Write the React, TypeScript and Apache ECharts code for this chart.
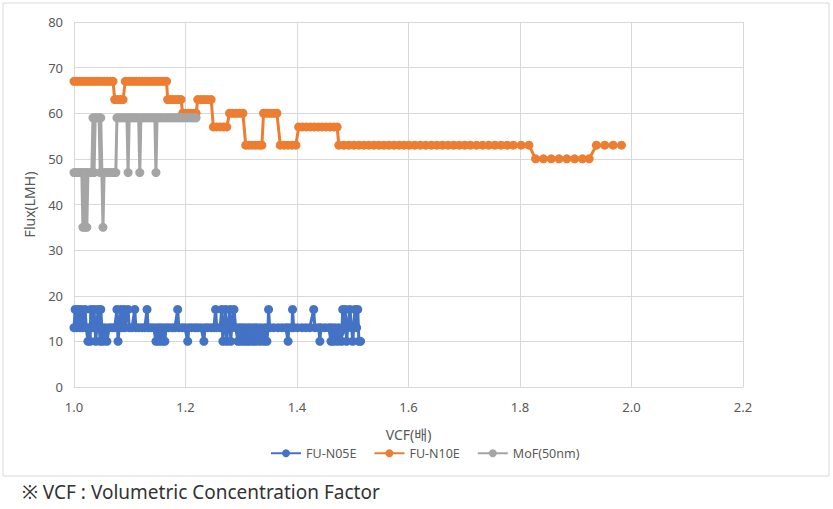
import React, { useEffect, useRef } from "react";
import * as echarts from "echarts";

const xTicks = ["1.0", "1.2", "1.4", "1.6", "1.8", "2.0", "2.2"];
const yTicks = [0, 10, 20, 30, 40, 50, 60, 70, 80];

const n05eVcf = [1.000,1.002,1.005,1.007,1.011,1.013,1.016,1.020,1.022,1.025,1.027,1.029,1.030,1.034,1.036,1.039,1.041,1.043,1.047,1.048,1.050,1.052,1.056,1.059,1.063,1.068,1.073,1.077,1.079,1.081,1.084,1.086,1.090,1.091,1.097,1.099,1.104,1.109,1.111,1.116,1.122,1.127,1.131,1.133,1.138,1.143,1.147,1.149,1.152,1.154,1.158,1.159,1.163,1.165,1.170,1.176,1.181,1.186,1.188,1.194,1.199,1.204,1.206,1.211,1.217,1.222,1.228,1.233,1.235,1.240,1.246,1.251,1.254,1.256,1.262,1.265,1.267,1.269,1.272,1.274,1.276,1.280,1.281,1.283,1.287,1.290,1.294,1.296,1.299,1.301,1.305,1.306,1.310,1.312,1.315,1.317,1.321,1.323,1.326,1.328,1.333,1.335,1.340,1.342,1.346,1.348,1.349,1.351,1.358,1.366,1.373,1.380,1.384,1.385,1.391,1.392,1.394,1.401,1.409,1.416,1.423,1.430,1.432,1.439,1.441,1.443,1.450,1.457,1.461,1.462,1.466,1.468,1.470,1.473,1.475,1.478,1.480,1.482,1.484,1.487,1.489,1.491,1.495,1.498,1.500,1.504,1.507,1.509,1.511,1.514];
const n05eFlux = [13,17,13,17,13,17,13,17,13,10,13,10,17,13,17,10,13,17,10,17,13,10,13,10,13,13,13,17,10,13,17,13,17,13,17,13,13,17,13,13,13,13,17,13,13,13,10,13,10,13,10,13,10,13,13,13,13,17,13,13,13,10,13,13,13,13,13,10,13,13,13,13,17,13,13,17,10,13,17,10,13,17,10,13,17,13,10,13,10,13,10,13,10,13,10,13,10,13,10,13,10,13,10,13,10,13,17,13,13,13,13,13,10,13,13,17,13,13,13,13,13,17,13,13,10,13,13,13,10,13,10,13,12,10,13,12,10,17,13,17,10,13,17,13,10,17,13,17,10,10];

const n10eVcf = [1.000,1.005,1.010,1.015,1.020,1.025,1.030,1.035,1.040,1.045,1.050,1.055,1.060,1.065,1.070,1.073,1.078,1.083,1.088,1.092,1.097,1.102,1.107,1.112,1.117,1.122,1.127,1.132,1.137,1.142,1.147,1.152,1.157,1.162,1.166,1.168,1.173,1.178,1.183,1.188,1.192,1.195,1.200,1.205,1.210,1.215,1.219,1.222,1.228,1.234,1.240,1.246,1.250,1.256,1.262,1.268,1.274,1.279,1.285,1.291,1.297,1.303,1.308,1.314,1.320,1.326,1.332,1.337,1.340,1.346,1.352,1.358,1.364,1.370,1.377,1.384,1.391,1.398,1.403,1.410,1.417,1.424,1.431,1.438,1.445,1.452,1.459,1.466,1.472,1.475,1.484,1.493,1.502,1.511,1.520,1.529,1.538,1.547,1.556,1.565,1.574,1.583,1.592,1.601,1.611,1.621,1.631,1.641,1.651,1.661,1.671,1.681,1.691,1.701,1.711,1.722,1.733,1.744,1.755,1.766,1.777,1.788,1.802,1.816,1.828,1.842,1.856,1.870,1.884,1.898,1.912,1.924,1.937,1.952,1.967,1.982];
const n10eFlux = [67,67,67,67,67,67,67,67,67,67,67,67,67,67,67,63,63,63,63,67,67,67,67,67,67,67,67,67,67,67,67,67,67,67,67,63,63,63,63,63,63,60,60,60,60,60,60,63,63,63,63,63,57,57,57,57,57,60,60,60,60,60,53,53,53,53,53,53,60,60,60,60,60,53,53,53,53,53,57,57,57,57,57,57,57,57,57,57,57,53,53,53,53,53,53,53,53,53,53,53,53,53,53,53,53,53,53,53,53,53,53,53,53,53,53,53,53,53,53,53,53,53,53,53,50,50,50,50,50,50,50,50,53,53,53,53];

const mofVcf = [1.000,1.004,1.007,1.011,1.014,1.016,1.018,1.020,1.022,1.023,1.025,1.029,1.032,1.034,1.036,1.038,1.041,1.045,1.047,1.048,1.052,1.054,1.057,1.061,1.065,1.068,1.072,1.075,1.077,1.081,1.084,1.088,1.091,1.095,1.097,1.099,1.102,1.106,1.109,1.113,1.116,1.118,1.120,1.124,1.127,1.131,1.134,1.138,1.142,1.145,1.147,1.149,1.152,1.156,1.159,1.163,1.167,1.170,1.174,1.177,1.181,1.185,1.188,1.192,1.195,1.199,1.202,1.206,1.210,1.213,1.217,1.219];
const mofFlux = [47,47,47,47,47,35,47,35,47,35,47,47,47,59,47,59,59,59,47,59,35,47,47,47,47,47,47,47,59,59,59,59,59,59,47,59,59,59,59,59,59,47,59,59,59,59,59,59,59,59,47,59,59,59,59,59,59,59,59,59,59,59,59,59,59,59,59,59,59,59,59,59];

const seriesNames = ["FU-N05E", "FU-N10E", "MoF(50nm)"];
const seriesColors = ["#4472C4", "#ED7D31", "#A5A5A5"];

const pairs = (xs: number[], ys: number[]) => xs.map((x, i) => [x, ys[i]]);

export default function App() {
  const ref = useRef<HTMLDivElement>(null);
  useEffect(() => {
    document.body.style.margin = "0";
    const chart = echarts.init(ref.current!, null, { renderer: "svg" });
    const font = "'Noto Sans', 'Noto Sans CJK KR', sans-serif";
    const datasets = [pairs(n05eVcf, n05eFlux), pairs(n10eVcf, n10eFlux), pairs(mofVcf, mofFlux)];
    chart.setOption({
      animation: false,
      textStyle: { fontFamily: font },
      grid: { left: 74, right: 90, top: 22, bottom: 122, containLabel: false },
      graphic: [
        {
          type: "rect",
          shape: { x: 3, y: 3, width: 826, height: 473 },
          style: { fill: "none", stroke: "#d9d9d9", lineWidth: 1 },
          silent: true,
        },
        {
          type: "text",
          left: 22,
          top: 482,
          style: {
            text: "※ VCF : Volumetric Concentration Factor",
            fill: "#333333",
            fontSize: 19,
            fontFamily: font,
          },
        },
      ],
      legend: {
        data: seriesNames,
        top: 442,
        left: 265,
        itemWidth: 30,
        itemHeight: 10,
        itemGap: 17,
        textStyle: { color: "#595959", fontSize: 12.5, fontFamily: font },
      },
      xAxis: {
        type: "value",
        min: 1.0,
        max: 2.2,
        interval: 0.2,
        name: "VCF(배)",
        nameLocation: "middle",
        nameGap: 40,
        nameTextStyle: { color: "#595959", fontSize: 14, fontFamily: font },
        axisLine: { show: true, lineStyle: { color: "#d9d9d9", width: 1 } },
        axisTick: { show: false },
        axisLabel: {
          color: "#595959",
          fontSize: 13,
          margin: 13,
          formatter: (v: number) => {
            const idx = Math.round((v - 1.0) / 0.2);
            return xTicks[idx] ?? "";
          },
        },
        splitLine: { show: true, lineStyle: { color: "#d9d9d9", width: 1 } },
      },
      yAxis: {
        type: "value",
        min: yTicks[0],
        max: yTicks[yTicks.length - 1],
        interval: 10,
        name: "Flux(LMH)",
        nameLocation: "middle",
        nameGap: 38,
        nameTextStyle: { color: "#595959", fontSize: 14, fontFamily: font },
        axisLine: { show: false },
        axisTick: { show: false },
        axisLabel: { color: "#595959", fontSize: 13, margin: 11 },
        splitLine: { show: true, lineStyle: { color: "#d9d9d9", width: 1 } },
      },
      series: seriesNames.map((name, i) => ({
        name,
        type: "line",
        data: datasets[i],
        symbol: "circle",
        symbolSize: 9,
        showSymbol: true,
        showAllSymbol: true,
        lineStyle: { color: seriesColors[i], width: 3 },
        itemStyle: { color: seriesColors[i] },
        z: i === 0 ? 3 : i === 2 ? 4 : 2,
      })),
    });
    return () => chart.dispose();
  }, []);
  return <div ref={ref} style={{ width: 833, height: 509 }} />;
}
